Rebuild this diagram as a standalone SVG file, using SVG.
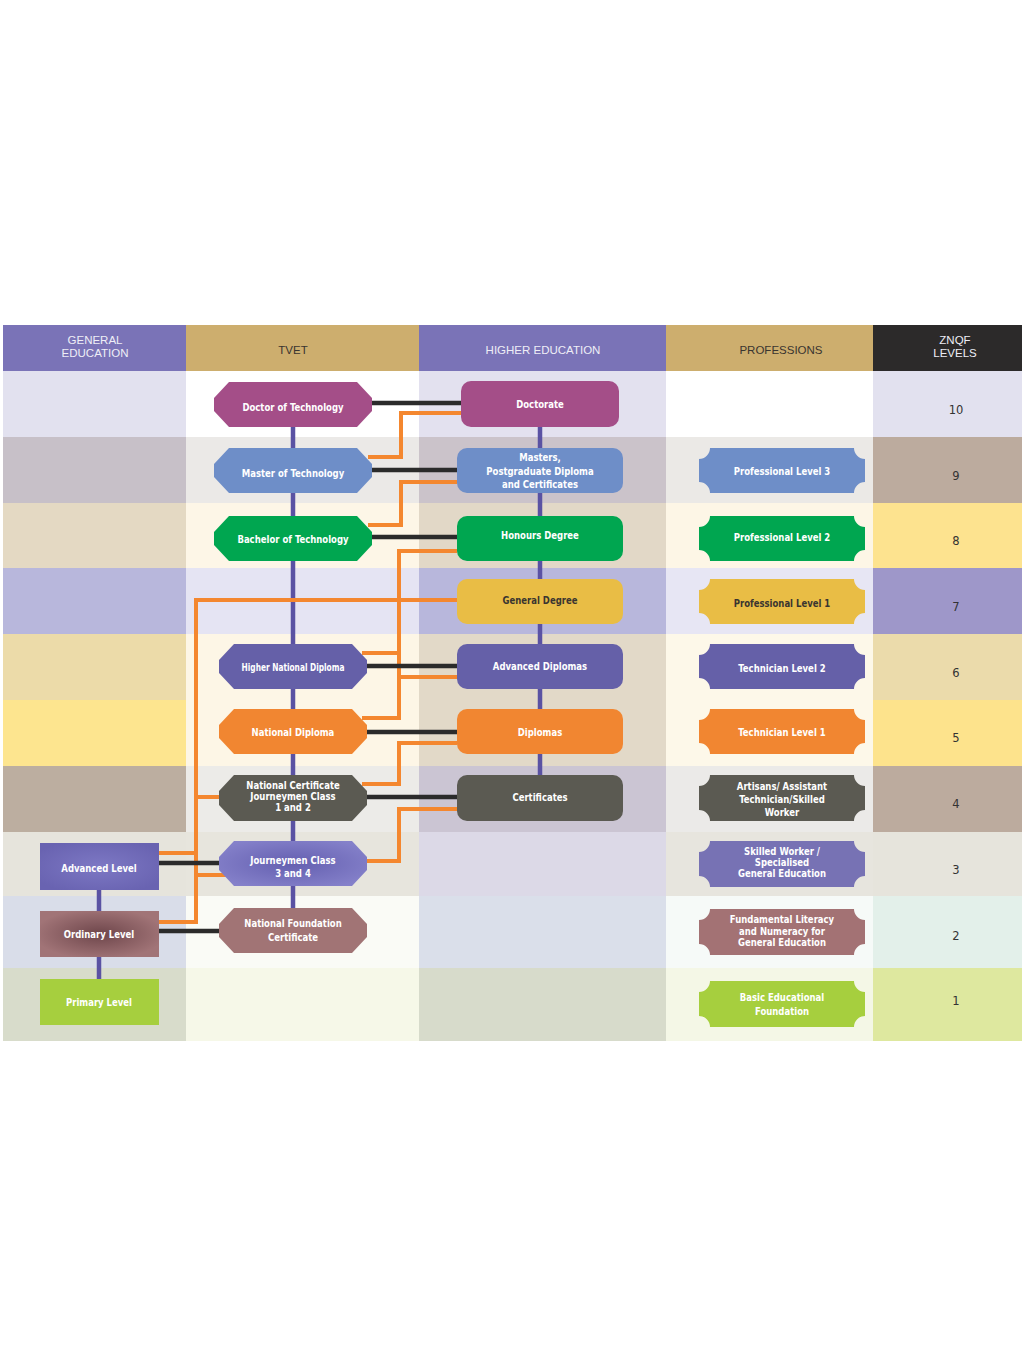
<svg xmlns="http://www.w3.org/2000/svg" width="1024" height="1365" viewBox="0 0 1024 1365">
<defs>
<style>
.hd{font-family:'Liberation Sans','DejaVu Sans',sans-serif;font-size:11.5px;text-anchor:middle}
.lbl{font-family:'Liberation Sans Narrow','DejaVu Sans Condensed','Liberation Sans',sans-serif;font-weight:bold;font-size:11px;fill:#ffffff;text-anchor:middle}
.dk{fill:#3a3530}
.num{font-family:'DejaVu Sans','Liberation Sans',sans-serif;font-size:11.5px;fill:#333;text-anchor:middle}
.blk{stroke:#2b2b2b;stroke-width:4.5;fill:none}
.org{stroke:#f4872f;stroke-width:4;fill:none}
.pur{stroke:#5a52a3;stroke-width:4.5;fill:none}
</style>
<radialGradient id="gOrd" cx="0.5" cy="0.5" r="0.55"><stop offset="0" stop-color="#6e464b"/><stop offset="1" stop-color="#a17477"/></radialGradient>
<radialGradient id="gAdv" cx="0.5" cy="0.5" r="0.6"><stop offset="0" stop-color="#7d78c4"/><stop offset="1" stop-color="#6963b1"/></radialGradient>
<radialGradient id="gJrn" cx="0.5" cy="0.5" r="0.6"><stop offset="0" stop-color="#645fb0"/><stop offset="1" stop-color="#8581ca"/></radialGradient>
</defs>
<rect width="1024" height="1365" fill="#ffffff"/>

<g id="background">
<rect x="3" y="325" width="183" height="46" fill="#7a73b7"/>
<rect x="186" y="325" width="233" height="46" fill="#cdae6e"/>
<rect x="419" y="325" width="247" height="46" fill="#7a73b7"/>
<rect x="666" y="325" width="207" height="46" fill="#cdae6e"/>
<rect x="873" y="325" width="149" height="46" fill="#2c2a2a"/>
<rect x="3" y="371" width="183" height="66" fill="#e2e1ef"/>
<rect x="3" y="437" width="183" height="66" fill="#c7c0c8"/>
<rect x="3" y="503" width="183" height="65" fill="#e4d9c3"/>
<rect x="3" y="568" width="183" height="66" fill="#b8b7dc"/>
<rect x="3" y="634" width="183" height="66" fill="#ecdba9"/>
<rect x="3" y="700" width="183" height="66" fill="#fde58f"/>
<rect x="3" y="766" width="183" height="66" fill="#bcaea0"/>
<rect x="3" y="832" width="183" height="64" fill="#e6e4dc"/>
<rect x="3" y="896" width="183" height="72" fill="#d9dde9"/>
<rect x="3" y="968" width="183" height="73" fill="#d8dccb"/>
<rect x="186" y="371" width="233" height="66" fill="#ffffff"/>
<rect x="186" y="437" width="233" height="66" fill="#ebe9e7"/>
<rect x="186" y="503" width="233" height="65" fill="#fdf6e7"/>
<rect x="186" y="568" width="233" height="66" fill="#e5e4f3"/>
<rect x="186" y="634" width="233" height="132" fill="#fdf6e6"/>
<rect x="186" y="766" width="233" height="66" fill="#ecebe8"/>
<rect x="186" y="832" width="233" height="64" fill="#e7e5dd"/>
<rect x="186" y="896" width="233" height="72" fill="#fafbf6"/>
<rect x="186" y="968" width="233" height="73" fill="#f6f8e8"/>
<rect x="419" y="371" width="247" height="66" fill="#e3e1ef"/>
<rect x="419" y="437" width="247" height="66" fill="#cbc3ca"/>
<rect x="419" y="503" width="247" height="65" fill="#e2d8c7"/>
<rect x="419" y="568" width="247" height="66" fill="#b8b7dc"/>
<rect x="419" y="634" width="247" height="132" fill="#e2d9c8"/>
<rect x="419" y="766" width="247" height="66" fill="#cbc5d3"/>
<rect x="419" y="832" width="247" height="64" fill="#dcd9e7"/>
<rect x="419" y="896" width="247" height="72" fill="#dadfea"/>
<rect x="419" y="968" width="247" height="73" fill="#d7dbcb"/>
<rect x="666" y="371" width="207" height="66" fill="#ffffff"/>
<rect x="666" y="437" width="207" height="66" fill="#ebe9e6"/>
<rect x="666" y="503" width="207" height="65" fill="#fdf6e6"/>
<rect x="666" y="568" width="207" height="66" fill="#e7e6f4"/>
<rect x="666" y="634" width="207" height="132" fill="#fdf8e9"/>
<rect x="666" y="766" width="207" height="66" fill="#ebeae8"/>
<rect x="666" y="832" width="207" height="64" fill="#e7e5de"/>
<rect x="666" y="896" width="207" height="72" fill="#f6faf8"/>
<rect x="666" y="968" width="207" height="73" fill="#f4f7e6"/>
<rect x="873" y="371" width="149" height="66" fill="#e2e1ef"/>
<rect x="873" y="437" width="149" height="66" fill="#bcab9e"/>
<rect x="873" y="503" width="149" height="65" fill="#fde38f"/>
<rect x="873" y="568" width="149" height="66" fill="#9e97c9"/>
<rect x="873" y="634" width="149" height="66" fill="#ebdbab"/>
<rect x="873" y="700" width="149" height="66" fill="#fde38c"/>
<rect x="873" y="766" width="149" height="66" fill="#bcab9e"/>
<rect x="873" y="832" width="149" height="64" fill="#e6e4dc"/>
<rect x="873" y="896" width="149" height="72" fill="#e3f0ea"/>
<rect x="873" y="968" width="149" height="73" fill="#dee89f"/>
</g>

<g id="headers">
<text class="hd" x="95" y="344" fill="#eeeef6">GENERAL</text>
<text class="hd" x="95" y="357" fill="#eeeef6">EDUCATION</text>
<text class="hd" x="293" y="354" fill="#3a3530">TVET</text>
<text class="hd" x="543" y="354" fill="#eeeef6">HIGHER EDUCATION</text>
<text class="hd" x="781" y="354" fill="#3a3530">PROFESSIONS</text>
<text class="hd" x="955" y="344" fill="#eeeef6">ZNQF</text>
<text class="hd" x="955" y="357" fill="#eeeef6">LEVELS</text>
</g>

<g id="levels">
<text class="num" x="956" y="414">10</text>
<text class="num" x="956" y="480">9</text>
<text class="num" x="956" y="545">8</text>
<text class="num" x="956" y="611">7</text>
<text class="num" x="956" y="677">6</text>
<text class="num" x="956" y="742">5</text>
<text class="num" x="956" y="808">4</text>
<text class="num" x="956" y="874">3</text>
<text class="num" x="956" y="940">2</text>
<text class="num" x="956" y="1005">1</text>
</g>

<g id="connectors">
<path class="pur" d="M293 427V908"/>
<path class="pur" d="M540 427V775"/>
<path class="pur" d="M99 890V979"/>
<path class="org" d="M368 457H401V413H461"/>
<path class="org" d="M368 525H401V482H457"/>
<path class="org" d="M457 551H399V718H362"/>
<path class="org" d="M362 653H399"/>
<path class="org" d="M457 677H399"/>
<path class="org" d="M457 743H399V784H362"/>
<path class="org" d="M457 809H399V861H367"/>
<path class="org" d="M457 600H196V922H159"/>
<path class="org" d="M219 797H196"/>
<path class="org" d="M159 853H196"/>
<path class="org" d="M196 875H226"/>
<path class="blk" d="M372 403H461"/>
<path class="blk" d="M372 470H457"/>
<path class="blk" d="M372 537H457"/>
<path class="blk" d="M367 666H457"/>
<path class="blk" d="M367 732H457"/>
<path class="blk" d="M367 797H457"/>
<path class="blk" d="M159 863H219"/>
<path class="blk" d="M159 931H219"/>
</g>

<g id="doctor-of-technology">
<polygon points="229,382 357,382 372,398 372,411 357,427 229,427 214,411 214,398" fill="#a44e88"/>
<text class="lbl" x="293" y="411" transform="matrix(.86 0 0 1 41.02 0)">Doctor of Technology</text>
</g>
<g id="master-of-technology">
<polygon points="229,448 357,448 372,464 372,477 357,493 229,493 214,477 214,464" fill="#6e8ec8"/>
<text class="lbl" x="293" y="477" transform="matrix(.86 0 0 1 41.02 0)">Master of Technology</text>
</g>
<g id="bachelor-of-technology">
<polygon points="229,516 357,516 372,532 372,545 357,561 229,561 214,545 214,532" fill="#00a650"/>
<text class="lbl" x="293" y="543" transform="matrix(.86 0 0 1 41.02 0)">Bachelor of Technology</text>
</g>
<g id="higher-national-diploma">
<polygon points="234,644 352,644 367,660 367,673 352,689 234,689 219,673 219,660" fill="#6560a8"/>
<text class="lbl" x="293" y="671" transform="matrix(.75 0 0 1 73.25 0)">Higher National Diploma</text>
</g>
<g id="national-diploma">
<polygon points="234,709 352,709 367,725 367,738 352,754 234,754 219,738 219,725" fill="#f18631"/>
<text class="lbl" x="293" y="736" transform="matrix(.86 0 0 1 41.02 0)">National Diploma</text>
</g>
<g id="national-certificate">
<polygon points="234,775 352,775 367,791 367,805 352,821 234,821 219,805 219,791" fill="#5b5a52"/>
<text class="lbl" x="293" y="789" transform="matrix(.86 0 0 1 41.02 0)">National Certificate</text>
<text class="lbl" x="293" y="800" transform="matrix(.86 0 0 1 41.02 0)">Journeymen Class</text>
<text class="lbl" x="293" y="811" transform="matrix(.86 0 0 1 41.02 0)">1 and 2</text>
</g>
<g id="journeymen-class-3-4">
<polygon points="234,841 352,841 367,857 367,870 352,886 234,886 219,870 219,857" fill="url(#gJrn)"/>
<text class="lbl" x="293" y="864" transform="matrix(.86 0 0 1 41.02 0)">Journeymen Class</text>
<text class="lbl" x="293" y="877" transform="matrix(.86 0 0 1 41.02 0)">3 and 4</text>
</g>
<g id="national-foundation-certificate">
<polygon points="234,908 352,908 367,924 367,937 352,953 234,953 219,937 219,924" fill="#a17475"/>
<text class="lbl" x="293" y="927" transform="matrix(.86 0 0 1 41.02 0)">National Foundation</text>
<text class="lbl" x="293" y="941" transform="matrix(.86 0 0 1 41.02 0)">Certificate</text>
</g>

<g id="doctorate">
<rect x="461" y="381" width="158" height="46" rx="10" fill="#a44e88"/>
<text class="lbl" x="540" y="408" transform="matrix(.86 0 0 1 75.6 0)">Doctorate</text>
</g>
<g id="masters">
<rect x="457" y="448" width="166" height="45" rx="10" fill="#6e8ec8"/>
<text class="lbl" x="540" y="461" transform="matrix(.86 0 0 1 75.6 0)">Masters,</text>
<text class="lbl" x="540" y="475" transform="matrix(.86 0 0 1 75.6 0)">Postgraduate Diploma</text>
<text class="lbl" x="540" y="488" transform="matrix(.86 0 0 1 75.6 0)">and Certificates</text>
</g>
<g id="honours-degree">
<rect x="457" y="516" width="166" height="45" rx="10" fill="#00a650"/>
<text class="lbl" x="540" y="539" transform="matrix(.86 0 0 1 75.6 0)">Honours Degree</text>
</g>
<g id="general-degree">
<rect x="457" y="579" width="166" height="45" rx="10" fill="#e9bd45"/>
<text class="lbl dk" x="540" y="604" transform="matrix(.86 0 0 1 75.6 0)">General Degree</text>
</g>
<g id="advanced-diplomas">
<rect x="457" y="644" width="166" height="45" rx="10" fill="#6560a8"/>
<text class="lbl" x="540" y="670" transform="matrix(.86 0 0 1 75.6 0)">Advanced Diplomas</text>
</g>
<g id="diplomas">
<rect x="457" y="709" width="166" height="45" rx="10" fill="#f18631"/>
<text class="lbl" x="540" y="736" transform="matrix(.86 0 0 1 75.6 0)">Diplomas</text>
</g>
<g id="certificates">
<rect x="457" y="775" width="166" height="46" rx="10" fill="#5b5a52"/>
<text class="lbl" x="540" y="801" transform="matrix(.86 0 0 1 75.6 0)">Certificates</text>
</g>

<g id="professional-level-3">
<path d="M710 448H854A11 11 0 0 0 865 459V482A11 11 0 0 0 854 493H710A11 11 0 0 0 699 482V459A11 11 0 0 0 710 448Z" fill="#6e8ec8"/>
<text class="lbl" x="782" y="475" transform="matrix(.86 0 0 1 109.48 0)">Professional Level 3</text>
</g>
<g id="professional-level-2">
<path d="M710 516H854A11 11 0 0 0 865 527V550A11 11 0 0 0 854 561H710A11 11 0 0 0 699 550V527A11 11 0 0 0 710 516Z" fill="#00a650"/>
<text class="lbl" x="782" y="541" transform="matrix(.86 0 0 1 109.48 0)">Professional Level 2</text>
</g>
<g id="professional-level-1">
<path d="M710 579H854A11 11 0 0 0 865 590V613A11 11 0 0 0 854 624H710A11 11 0 0 0 699 613V590A11 11 0 0 0 710 579Z" fill="#e9bd45"/>
<text class="lbl dk" x="782" y="607" transform="matrix(.86 0 0 1 109.48 0)">Professional Level 1</text>
</g>
<g id="technician-level-2">
<path d="M710 644H854A11 11 0 0 0 865 655V678A11 11 0 0 0 854 689H710A11 11 0 0 0 699 678V655A11 11 0 0 0 710 644Z" fill="#6560a8"/>
<text class="lbl" x="782" y="672" transform="matrix(.86 0 0 1 109.48 0)">Technician Level 2</text>
</g>
<g id="technician-level-1">
<path d="M710 709H854A11 11 0 0 0 865 720V743A11 11 0 0 0 854 754H710A11 11 0 0 0 699 743V720A11 11 0 0 0 710 709Z" fill="#f18631"/>
<text class="lbl" x="782" y="736" transform="matrix(.86 0 0 1 109.48 0)">Technician Level 1</text>
</g>
<g id="artisans">
<path d="M710 775H854A11 11 0 0 0 865 786V810A11 11 0 0 0 854 821H710A11 11 0 0 0 699 810V786A11 11 0 0 0 710 775Z" fill="#5b5a52"/>
<text class="lbl" x="782" y="790" transform="matrix(.86 0 0 1 109.48 0)">Artisans/ Assistant</text>
<text class="lbl" x="782" y="803" transform="matrix(.86 0 0 1 109.48 0)">Technician/Skilled</text>
<text class="lbl" x="782" y="816" transform="matrix(.86 0 0 1 109.48 0)">Worker</text>
</g>
<g id="skilled-worker">
<path d="M710 841H854A11 11 0 0 0 865 852V876A11 11 0 0 0 854 887H710A11 11 0 0 0 699 876V852A11 11 0 0 0 710 841Z" fill="#7772b4"/>
<text class="lbl" x="782" y="855" transform="matrix(.86 0 0 1 109.48 0)">Skilled Worker /</text>
<text class="lbl" x="782" y="866" transform="matrix(.86 0 0 1 109.48 0)">Specialised</text>
<text class="lbl" x="782" y="877" transform="matrix(.86 0 0 1 109.48 0)">General Education</text>
</g>
<g id="fundamental-literacy">
<path d="M710 909H854A11 11 0 0 0 865 920V944A11 11 0 0 0 854 955H710A11 11 0 0 0 699 944V920A11 11 0 0 0 710 909Z" fill="#a37274"/>
<text class="lbl" x="782" y="923" transform="matrix(.86 0 0 1 109.48 0)">Fundamental Literacy</text>
<text class="lbl" x="782" y="935" transform="matrix(.86 0 0 1 109.48 0)">and Numeracy for</text>
<text class="lbl" x="782" y="946" transform="matrix(.86 0 0 1 109.48 0)">General Education</text>
</g>
<g id="basic-educational-foundation">
<path d="M710 981H854A11 11 0 0 0 865 992V1016A11 11 0 0 0 854 1027H710A11 11 0 0 0 699 1016V992A11 11 0 0 0 710 981Z" fill="#a6cf3e"/>
<text class="lbl" x="782" y="1001" transform="matrix(.86 0 0 1 109.48 0)">Basic Educational</text>
<text class="lbl" x="782" y="1015" transform="matrix(.86 0 0 1 109.48 0)">Foundation</text>
</g>

<g id="advanced-level">
<rect x="40" y="843" width="119" height="47" fill="url(#gAdv)"/>
<text class="lbl" x="99" y="872" transform="matrix(.86 0 0 1 13.86 0)">Advanced Level</text>
</g>
<g id="ordinary-level">
<rect x="40" y="911" width="119" height="46" fill="url(#gOrd)"/>
<text class="lbl" x="99" y="938" transform="matrix(.86 0 0 1 13.86 0)">Ordinary Level</text>
</g>
<g id="primary-level">
<rect x="40" y="979" width="119" height="46" fill="#a6cf3e"/>
<text class="lbl" x="99" y="1006" transform="matrix(.86 0 0 1 13.86 0)">Primary Level</text>
</g>
</svg>
